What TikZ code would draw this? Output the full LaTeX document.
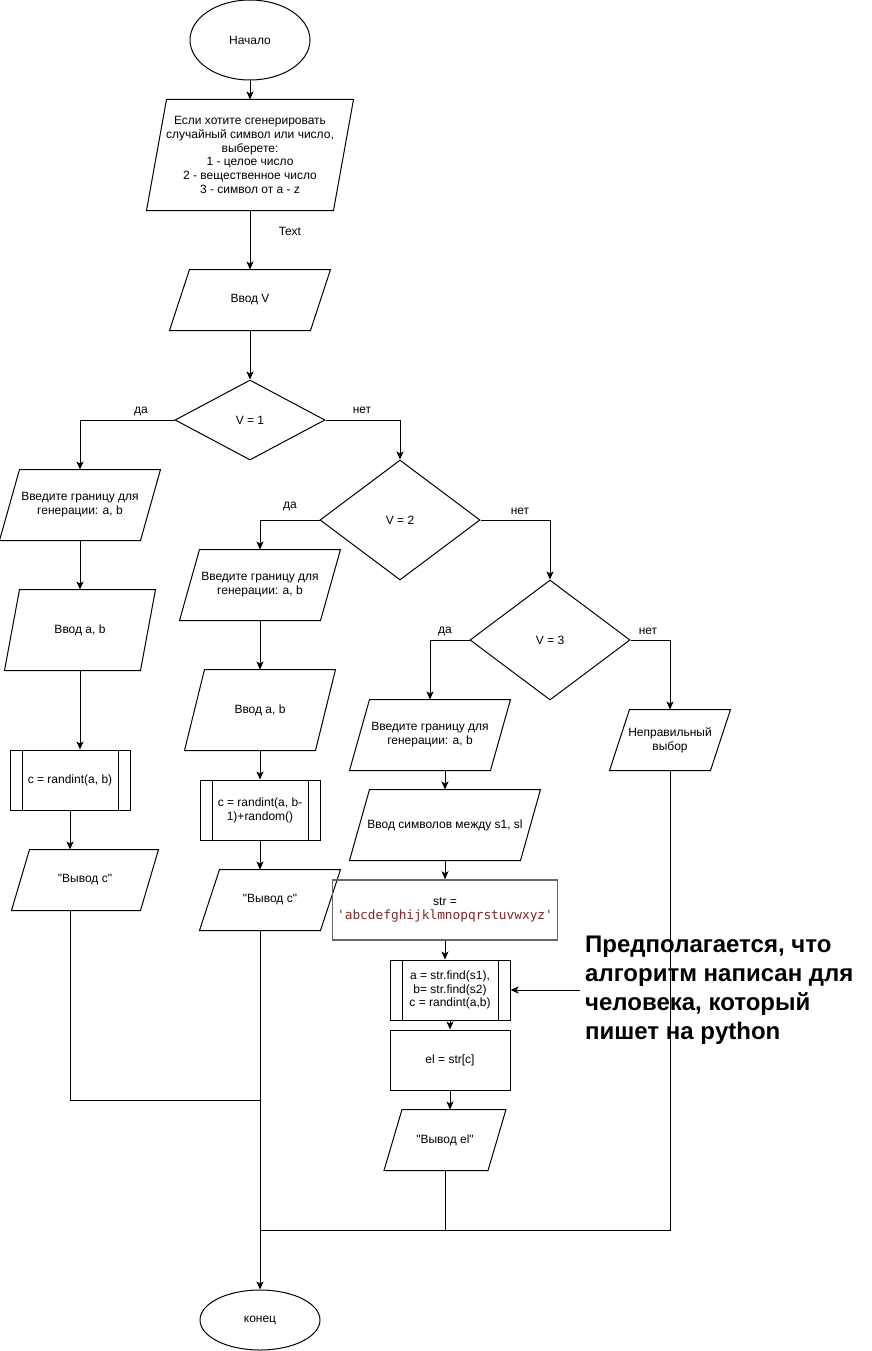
\documentclass[tikz,border=0pt]{standalone}
\usepackage{fontspec}
\setmainfont{Liberation Sans}[Ligatures=TeXOff]
\newfontfamily\codefont{DejaVu Sans Mono}
\usetikzlibrary{shapes.geometric,arrows.meta}
\definecolor{strred}{RGB}{128,38,38}
\tikzset{
  base/.style={draw, line width=1pt, align=center, inner sep=0pt, font=\fontsize{12}{13.8}\selectfont},
  term/.style={base, ellipse, minimum width=120pt},
  % parallelogram: the node is its body, #1 is half the slant
  io/.style={base, draw=none, rectangle,
    append after command={\pgfextra{\begin{pgfinterruptpath}
      \draw[line width=1pt] ([xshift=#1]\tikzlastnode.north west) -- ([xshift=#1]\tikzlastnode.north east)
        -- ([xshift=-#1]\tikzlastnode.south east) -- ([xshift=-#1]\tikzlastnode.south west) -- cycle;
    \end{pgfinterruptpath}}}},
  decision/.style={base, diamond},
  proc/.style={base, rectangle, minimum width=120pt, minimum height=60pt,
    path picture={\draw[line width=1pt] ([xshift=12pt]path picture bounding box.north west) -- ([xshift=12pt]path picture bounding box.south west)
      ([xshift=-12pt]path picture bounding box.north east) -- ([xshift=-12pt]path picture bounding box.south east);}},
  box/.style={base, rectangle},
  arr/.style={-{Stealth[length=8pt,width=7pt,inset=2pt]}, line width=1pt},
  lbl/.style={font=\fontsize{12}{14}\selectfont, inner sep=0pt}
}
\begin{document}
\begin{tikzpicture}[x=1pt, y=-1pt]
    \useasboundingbox (0,0) rectangle (871,1351);

    % start and choice
    \node[term, minimum height=80pt] (start) at (250,40) {Начало};
    \node[io=10pt, minimum width=186pt, minimum height=110pt] (ask) at (250,155) {Если хотите сгенерировать\\случайный символ или число,\\выберете:\\1 - целое число\\2 - вещественное число\\3 - символ от a - z};
    \node[lbl] (txt) at (290,231) {Text};
    \node[io=10pt, minimum width=140pt, minimum height=60pt] (inV) at (250,300) {Ввод V};
    \node[decision, minimum width=150pt, minimum height=80pt] (d1) at (250,420) {V = 1};

    % left branch: V = 1
    \node[io=10pt, minimum width=140pt, minimum height=70pt] (askL) at (80,505) {Введите границу для\\генерации: a, b};
    \node[io=7.5pt, minimum width=135pt, minimum height=80pt] (inL) at (80,630) {Ввод a, b};
    \node[proc] (calcL) at (70,780) {c = randint(a, b)};
    \node[io=9pt, minimum width=128pt, minimum height=60pt] (outL) at (85,880) {"Вывод с"};

    % middle branch: V = 2
    \node[decision, minimum width=160pt, minimum height=120pt] (d2) at (400,520) {V = 2};
    \node[io=10pt, minimum width=140pt, minimum height=70pt] (askM) at (260,585) {Введите границу для\\генерации: a, b};
    \node[io=10pt, minimum width=130pt, minimum height=80pt] (inM) at (260,710) {Ввод a, b};
    \node[proc] (calcM) at (260,810) {c = randint(a, b-\\1)+random()};
    \node[io=10pt, minimum width=120pt, minimum height=60pt] (outM) at (270,900) {"Вывод с"};

    % right branch: V = 3
    \node[decision, minimum width=160pt, minimum height=120pt] (d3) at (550,640) {V = 3};
    \node[io=10pt, minimum width=140pt, minimum height=70pt] (askR) at (430,735) {Введите границу для\\генерации: a, b};
    \node[io=10pt, minimum width=170pt, minimum height=70pt] (inR) at (445,825) {Ввод символов между s1, sl};
    \node[box, draw=black!60, line width=1.5pt, minimum width=225pt, minimum height=60pt] (alpha) at (445,910) {str =\\{\codefont\fontsize{12.8}{16}\selectfont\color{strred}'abcdefghijklmnopqrstuvwxyz'}};
    \node[proc] (find) at (450,990) {a = str.find(s1),\\b= str.find(s2)\\c = randint(a,b)};
    \node[box, minimum width=120pt, minimum height=60pt] (pick) at (450,1060) {el = str[c]};
    \node[io=9pt, minimum width=103pt, minimum height=60pt] (outR) at (445,1140) {"Вывод el"};
    \node[io=10pt, minimum width=100pt, minimum height=60pt] (wrong) at (670,740) {Неправильный\\выбор};

    % end
    \node[term, minimum height=60pt] (end) at (260,1320) {конец};
    \coordinate (j1) at (260,1100);
    \coordinate (j2) at (260,1230);

    % note
    \node[font=\bfseries\fontsize{24}{29}\selectfont, align=left, anchor=west, inner xsep=5pt, inner ysep=0pt] (note) at (580,990) {Предполагается, что\\алгоритм написан для\\человека, который\\пишет на python};

    % branch labels
    \node[lbl] (yes1) at (141,411) {да};
    \node[lbl] (no1) at (362,410) {нет};
    \node[lbl] (yes2) at (290,506) {да};
    \node[lbl] (no2) at (520,511) {нет};
    \node[lbl] (yes3) at (445,631) {да};
    \node[lbl] (no3) at (648,631) {нет};

    % connectors
    \draw[arr] (start.south) -- (ask.north);
    \draw[arr] (ask.south) -- (inV.north);
    \draw[arr] (inV.south) -- (d1.north);
    \draw[arr] (d1.west) -| (askL.north);
    \draw[arr] (d1.east) -| (d2.north);
    \draw[arr] (askL.south) -- (inL.north);
    \draw[arr] (inL.south) -- (inL.south |- calcL.north);
    \draw[arr] (calcL.south) -- (calcL.south |- outL.north);
    \draw (calcL.south |- outL.south) |- (j1);
    \draw[arr] (d2.west) -| (askM.north);
    \draw[arr] (d2.east) -| (d3.north);
    \draw[arr] (askM.south) -- (inM.north);
    \draw[arr] (inM.south) -- (calcM.north);
    \draw[arr] (calcM.south) -- (calcM.south |- outM.north);
    \draw[arr] (calcM.south |- outM.south) -- (end.north);
    \draw[arr] (d3.west) -| (askR.north);
    \draw[arr] (d3.east) -| (wrong.north);
    \draw[arr] (inR.north |- askR.south) -- (inR.north);
    \draw[arr] (inR.south) -- (alpha.north);
    \draw[arr] (alpha.south) -- (alpha.south |- find.north);
    \draw[arr] (find.south) -- (pick.north);
    \draw[arr] (pick.south) -- (pick.south |- outR.north);
    \draw (outR.south) -- (outR.south |- j2);
    \draw (wrong.south) |- (j2);
    \draw[arr] (note.west) -- (find.east);
\end{tikzpicture}
\end{document}
